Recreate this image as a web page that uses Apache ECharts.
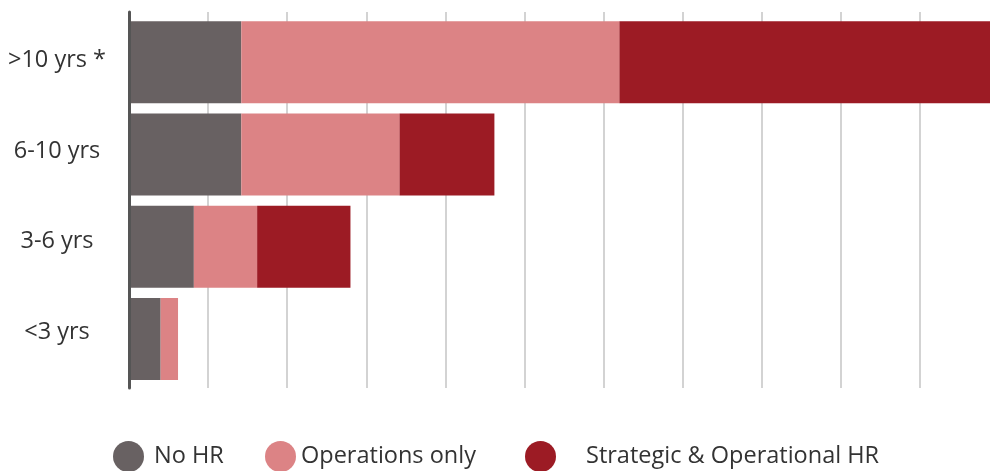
<!DOCTYPE html>
<html>
<head>
<meta charset="utf-8">
<script src="https://cdn.jsdelivr.net/npm/echarts@6/dist/echarts.min.js"></script>
<style>
html,body{margin:0;padding:0;background:#fff;}
#chart{width:990px;height:471px;}
</style>
</head>
<body>
<div id="chart"></div>
<script>
var categories = ['<3 yrs', '3-6 yrs', '6-10 yrs', '>10 yrs *'];
var noHR = [2.0, 4.1, 7.1, 7.1];
var operationsOnly = [1.1, 4.0, 10.0, 23.9];
var strategicOperational = [0, 5.9, 6.0, 23.5];
var seriesNames = ['No HR', 'Operations only', 'Strategic & Operational HR'];
var colors = ['#686162', '#dc8385', '#9c1b24'];

var font = '"Open Sans", "Noto Sans", sans-serif';
var chart = echarts.init(document.getElementById('chart'), null, {renderer: 'canvas'});

function legendFor(i, left, padLeft) {
  return {
    show: true,
    data: [{name: seriesNames[i], icon: 'circle', itemStyle: {color: colors[i]}}],
    left: left,
    top: 441,
    itemWidth: 31,
    itemHeight: 31,
    padding: 0,
    selectedMode: false,
    textStyle: {fontFamily: font, fontSize: 23.5, color: '#333333', padding: [0, 0, 0, padLeft]}
  };
}

var option = {
  animation: false,
  backgroundColor: '#ffffff',
  legend: [legendFor(0, 113, 5), legendFor(1, 265, 0), legendFor(2, 525, 25)],
  grid: [
    {left: 129, width: 870, top: 16, height: 369, outerBoundsMode: 'none', containLabel: false},
    {left: 129, width: 870, top: 12, height: 376, outerBoundsMode: 'none', containLabel: false},
    {left: 129, width: 870, top: 15, height: 362.7, outerBoundsMode: 'none', containLabel: false}
  ],
  xAxis: [
    {gridIndex: 0, type: 'value', min: 0, max: 55, interval: 5, show: false},
    {gridIndex: 1, type: 'value', min: 0, max: 55, interval: 5,
      axisLine: {show: false}, axisTick: {show: false}, axisLabel: {show: false},
      splitLine: {show: true, lineStyle: {color: '#c4c4c4', width: 1.5}}},
    {gridIndex: 2, type: 'value', min: 0, max: 55, show: false}
  ],
  yAxis: [
    {gridIndex: 0, type: 'category', data: categories, show: false},
    {gridIndex: 1, type: 'value', min: 0, max: 1, z: 5,
      axisLine: {show: true, lineStyle: {color: '#555555', width: 3}},
      axisTick: {show: false}, axisLabel: {show: false}, splitLine: {show: false}},
    {gridIndex: 2, type: 'category', data: categories,
      axisLine: {show: false}, axisTick: {show: false}, splitLine: {show: false},
      axisLabel: {show: true, margin: 72, align: 'center', fontFamily: font, fontSize: 23.5, color: '#333333'}}
  ],
  series: [
    {name: seriesNames[0], type: 'bar', stack: 'total', xAxisIndex: 0, yAxisIndex: 0, barWidth: 82, data: noHR, itemStyle: {color: colors[0]}},
    {name: seriesNames[1], type: 'bar', stack: 'total', xAxisIndex: 0, yAxisIndex: 0, barWidth: 82, data: operationsOnly, itemStyle: {color: colors[1]}},
    {name: seriesNames[2], type: 'bar', stack: 'total', xAxisIndex: 0, yAxisIndex: 0, barWidth: 82, data: strategicOperational, itemStyle: {color: colors[2]}}
  ]
};
chart.setOption(option);
</script>
</body>
</html>
